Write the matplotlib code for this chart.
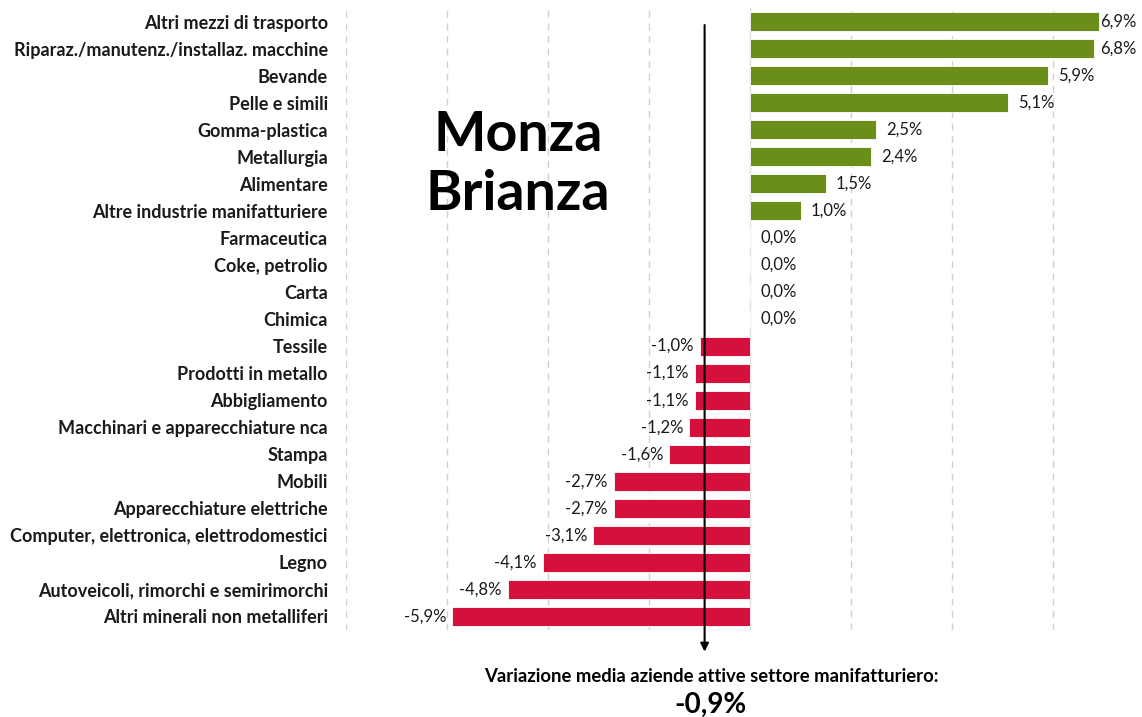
#!/usr/bin/env python3
"""Variazione aziende attive per settore manifatturiero - Monza Brianza."""
import matplotlib
matplotlib.use("Agg")
import matplotlib.pyplot as plt
from matplotlib import font_manager

sectors = [
    "Altri mezzi di trasporto",
    "Riparaz./manutenz./installaz. macchine",
    "Bevande",
    "Pelle e simili",
    "Gomma-plastica",
    "Metallurgia",
    "Alimentare",
    "Altre industrie manifatturiere",
    "Farmaceutica",
    "Coke, petrolio",
    "Carta",
    "Chimica",
    "Tessile",
    "Prodotti in metallo",
    "Abbigliamento",
    "Macchinari e apparecchiature nca",
    "Stampa",
    "Mobili",
    "Apparecchiature elettriche",
    "Computer, elettronica, elettrodomestici",
    "Legno",
    "Autoveicoli, rimorchi e semirimorchi",
    "Altri minerali non metalliferi",
]
values = [6.9, 6.8, 5.9, 5.1, 2.5, 2.4, 1.5, 1.0, 0.0, 0.0, 0.0, 0.0,
          -1.0, -1.1, -1.1, -1.2, -1.6, -2.7, -2.7, -3.1, -4.1, -4.8, -5.9]
mean_change = -0.9

GREEN = "#6b8e1a"
RED = "#d5103c"
XMAX = 7.76

installed = {f.name for f in font_manager.fontManager.ttflist}
fam = [f for f in ["Liberation Sans Narrow", "Lato", "DejaVu Sans"] if f in installed]
plt.rcParams["font.family"] = fam

fig = plt.figure(figsize=(11.42, 7.17), dpi=100)
ax = fig.add_axes([346 / 1142, 1 - 630 / 717, 1 - 346 / 1142, 622 / 717])

n = len(sectors)
ypos = list(range(n))
colors = [GREEN if v >= 0 else RED for v in values]
ax.barh(ypos, values, height=0.7, color=colors, edgecolor="#ffffff",
        linewidth=0.6, zorder=3)

ax.set_xlim(-8, XMAX)
ax.set_ylim(n - 0.5, -0.5)
ax.set_xticks([-8, -6, -4, -2, 2, 4, 6])
ax.xaxis.grid(True, linestyle=(0, (5, 4)), color="#d0d0d0", linewidth=1.0)
ax.axvline(0, color="#e0e0e0", linewidth=1.0, zorder=1)
ax.tick_params(axis="x", length=0, labelbottom=False)
ax.tick_params(axis="y", length=0, pad=13)
ax.set_yticks(ypos)
ax.set_yticklabels(sectors, fontsize=13, fontweight="bold", color="#1a1a1a")
for s in ax.spines.values():
    s.set_visible(False)

for y, v in zip(ypos, values):
    lab = f"{v:.1f}%".replace(".", ",")
    if v > 0:
        # keep the label inside the plot, as the spreadsheet does
        lx = min(v + 0.2, XMAX - 0.82)
        ax.text(lx, y, lab, va="center", ha="left", fontsize=12, color="#1a1a1a")
    elif v < 0:
        ax.text(v - 0.12, y, lab, va="center", ha="right", fontsize=12, color="#1a1a1a")
    else:
        ax.text(0.2, y, lab, va="center", ha="left", fontsize=12, color="#1a1a1a")

# arrow for the sector mean
ax.annotate("", xy=(mean_change, 23.3), xytext=(mean_change, 0.13),
            xycoords="data", annotation_clip=False,
            arrowprops=dict(arrowstyle="-|>", color="black", lw=1.5,
                            mutation_scale=12, shrinkA=0, shrinkB=0), zorder=5)

ax.text(-4.6, 5.27, "Monza\nBrianza", ha="center", va="center", fontsize=40,
        fontweight="bold", linespacing=1.22, family=["Lato", "DejaVu Sans"])

fig.text(711 / 1142, 1 - 676 / 717,
         "Variazione media aziende attive settore manifatturiero:",
         ha="center", va="center", fontsize=13.3, fontweight="bold")
fig.text(711 / 1142, 1 - 705 / 717, f"{mean_change:.1f}%".replace(".", ","),
         ha="center", va="center", fontsize=20, fontweight="bold")

fig.savefig("out.png", dpi=100)
